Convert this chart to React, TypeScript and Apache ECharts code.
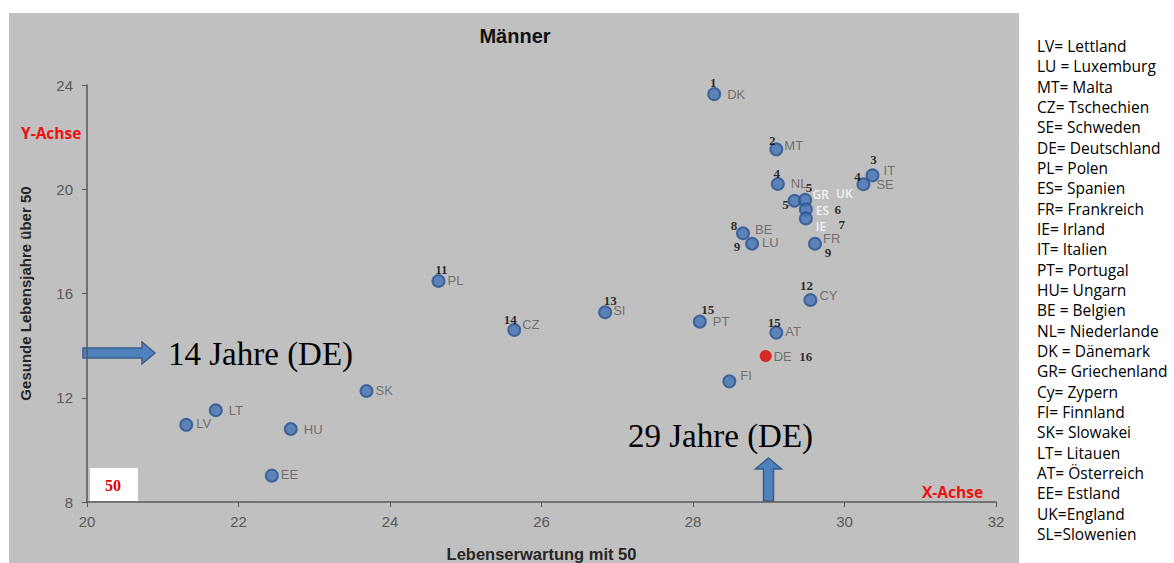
import React, { useEffect, useRef } from "react";
import * as echarts from "echarts";

const codes = ["DK", "MT", "IT", "SE", "NL", "GR", "UK", "ES", "IE", "BE", "LU", "FR", "CY", "PL", "SI", "CZ", "PT", "AT", "DE", "FI", "SK", "LT", "LV", "HU", "EE"];
const lifeExpectancy50 = [28.28, 29.1, 30.37, 30.25, 29.12, 29.34, 29.48, 29.49, 29.49, 28.66, 28.78, 29.61, 29.55, 24.64, 26.84, 25.64, 28.09, 29.1, 28.96, 28.48, 23.69, 21.7, 21.31, 22.69, 22.44];
const healthyYears50 = [23.65, 21.53, 20.53, 20.19, 20.2, 19.56, 19.59, 19.23, 18.88, 18.31, 17.91, 17.91, 15.75, 16.48, 15.28, 14.6, 14.92, 14.5, 13.6, 12.63, 12.26, 11.52, 10.96, 10.8, 9.01];
const ranks = ["1", "2", "3", "4", "4", "5", "5", "6", "7", "8", "9", "9", "12", "11", "13", "14", "15", "15", "16", "", "", "", "", "", ""];
const highlightCode = "DE";
const whiteLabelCodes = ["GR", "UK", "ES", "IE"];

const xTicks = { min: 20, max: 32, interval: 2 };
const yTicks = { min: 8, max: 24, interval: 4 };

const legendLines = [
  "LV= Lettland", "LU = Luxemburg", "MT= Malta", "CZ= Tschechien", "SE= Schweden", "DE= Deutschland",
  "PL= Polen", "ES= Spanien", "FR= Frankreich", "IE= Irland", "IT= Italien", "PT= Portugal",
  "HU= Ungarn", "BE = Belgien", "NL= Niederlande", "DK = Dänemark", "GR= Griechenland", "Cy= Zypern",
  "FI= Finnland", "SK= Slowakei", "LT= Litauen", "AT= Österreich", "EE= Estland", "UK=England", "SL=Slowenien",
];

// label layout tweaks (pixel offsets from the dot centre)
const nameOffsets: Record<string, [number, number]> = {
  DK: [12, 0], MT: [7, -4], IT: [10, -5], SE: [12, 0], NL: [12, -1], GR: [17, -6], UK: [30, -6],
  ES: [9, 1], IE: [9, 8], BE: [11, -4], LU: [9, -1], FR: [7, -5], CY: [8, -5], PL: [8, 0], SI: [7, -2],
  CZ: [7, -5], PT: [12, 0], AT: [8, -1], DE: [8, 0], FI: [10, -6], SK: [8, 0], LT: [12, 0], LV: [9, -1],
  HU: [12, 0], EE: [8, -1],
};
const rankOffsets: Record<string, [number, number]> = {
  DK: [-1, -12], MT: [-4, -9], IT: [1, -16], SE: [-6, -8], NL: [-1, -11], GR: [-9, 4], UK: [4, -12],
  ES: [32, 0], IE: [36, 6], BE: [-9, -8], LU: [-15, 3], FR: [13, 9], CY: [-4, -15], PL: [3, -11],
  SI: [5, -12], CZ: [-4, -10], PT: [8, -12], AT: [-2, -10], DE: [40, 0],
};

const SANS = "'Liberation Sans', Arial, sans-serif";
const SERIF = "'Liberation Serif', 'Times New Roman', serif";
const LEGEND_FONT = "'Open Sans', 'Noto Sans', sans-serif";

export default function App() {
  const ref = useRef<HTMLDivElement>(null);

  useEffect(() => {
    document.body.style.margin = "0";
    if (!ref.current) return;
    const chart = echarts.init(ref.current, undefined, { renderer: "svg" });

    const pointData = codes.map((c, i) => {
      const off = nameOffsets[c] || [8, 0];
      const isWhite = whiteLabelCodes.includes(c);
      const item: any = {
        name: c,
        value: [lifeExpectancy50[i], healthyYears50[i]],
        label: {
          offset: [off[0] - 6, off[1]],
          color: isWhite ? "#ffffff" : "#595959",
          fontFamily: isWhite ? LEGEND_FONT : SANS,
          fontWeight: isWhite ? 600 : "normal",
          fontSize: isWhite ? 12 : 13,
          lineHeight: isWhite ? 12 : 13,
        },
      };
      if (c === highlightCode) {
        item.itemStyle = { color: "#dd0000", borderWidth: 0 };
        item.z = 5;
      }
      return item;
    });

    const rankData = codes
      .map((c, i) => ({ c, i }))
      .filter(({ i }) => ranks[i] !== "")
      .map(({ c, i }) => ({
        name: ranks[i],
        value: [lifeExpectancy50[i], healthyYears50[i]],
        label: { offset: rankOffsets[c] || [0, -12] },
      }));

    const legendGraphics = legendLines.map((t, i) => ({
      type: "text",
      style: {
        text: t,
        x: 1037,
        y: 46 + i * 20.33,
        verticalAlign: "middle",
        align: "left",
        fill: "#000000",
        font: `15.5px ${LEGEND_FONT}`,
      },
    }));

    const option: any = {
      animation: false,
      backgroundColor: "#ffffff",
      textStyle: { fontFamily: SANS },
      grid: { left: 87, top: 85, width: 909, height: 417, containLabel: false, outerBoundsMode: "none" },
      xAxis: {
        type: "value",
        min: xTicks.min,
        max: xTicks.max,
        interval: xTicks.interval,
        name: "Lebenserwartung mit 50",
        nameLocation: "middle",
        nameGap: 43,
        nameTextStyle: { fontWeight: "bold", fontSize: 16.5, color: "#262626", fontFamily: SANS },
        axisLine: { show: true, onZero: false, lineStyle: { color: "#595959", width: 1.5 } },
        axisTick: { show: true, length: 5, lineStyle: { color: "#595959", width: 1 } },
        axisLabel: { color: "#595959", fontSize: 15, margin: 12, fontFamily: SANS },
        splitLine: { show: false },
      },
      yAxis: {
        type: "value",
        min: yTicks.min,
        max: yTicks.max,
        interval: yTicks.interval,
        name: "Gesunde Lebensjahre über 50",
        nameLocation: "middle",
        nameRotate: 90,
        nameGap: 54,
        nameTextStyle: { fontWeight: "bold", fontSize: 15, color: "#262626", fontFamily: SANS },
        axisLine: { show: true, onZero: false, lineStyle: { color: "#595959", width: 1.5 } },
        axisTick: { show: true, length: 5, lineStyle: { color: "#595959", width: 1 } },
        axisLabel: { color: "#595959", fontSize: 15, margin: 14, fontFamily: SANS },
        splitLine: { show: false },
      },
      series: [
        {
          type: "scatter",
          symbol: "circle",
          symbolSize: 12,
          itemStyle: { color: "#4472b4", borderColor: "#2a5592", borderWidth: 2 },
          label: {
            show: true,
            position: "right",
            distance: 0,
            formatter: "{b}",
            fontSize: 13,
            fontFamily: SANS,
            color: "#595959",
          },
          data: pointData,
          z: 3,
        },
        {
          type: "scatter",
          symbol: "circle",
          symbolSize: 1,
          silent: true,
          itemStyle: { color: "rgba(0,0,0,0)" },
          label: {
            show: true,
            position: "inside",
            formatter: "{b}",
            fontSize: 13,
            lineHeight: 13,
            fontWeight: "bold",
            fontFamily: SERIF,
            color: "#000000",
          },
          data: rankData,
          z: 4,
        },
      ],
      graphic: [
        {
          type: "rect",
          z: -10,
          silent: true,
          shape: { x: 9, y: 13, width: 1010, height: 550 },
          style: { fill: "#c0c0c0" },
        },
        {
          type: "text",
          style: {
            text: "Männer",
            x: 515,
            y: 36,
            align: "center",
            verticalAlign: "middle",
            fill: "#111111",
            font: `bold 20px ${SANS}`,
          },
        },
        {
          type: "rect",
          shape: { x: 90, y: 468, width: 48, height: 33 },
          style: { fill: "#ffffff" },
        },
        {
          type: "text",
          style: {
            text: "50",
            x: 113,
            y: 485,
            align: "center",
            verticalAlign: "middle",
            fill: "#e00000",
            font: `bold 16px ${SERIF}`,
          },
        },
        {
          type: "text",
          style: {
            text: "Y-Achse",
            x: 21,
            y: 133,
            align: "left",
            verticalAlign: "middle",
            fill: "#ee1111",
            font: `bold 15.5px ${LEGEND_FONT}`,
          },
        },
        {
          type: "text",
          style: {
            text: "X-Achse",
            x: 922,
            y: 492,
            align: "left",
            verticalAlign: "middle",
            fill: "#ee1111",
            font: `bold 15.5px ${LEGEND_FONT}`,
          },
        },
        {
          type: "polygon",
          shape: {
            points: [[83, 348], [142, 348], [142, 342], [155, 353], [142, 364], [142, 358], [83, 358]],
          },
          style: { fill: "#4f81bd", stroke: "#385d8a", lineWidth: 1.5 },
        },
        {
          type: "polygon",
          shape: {
            points: [[768.5, 458], [781.5, 469], [773.5, 469], [773.5, 501], [763.5, 501], [763.5, 469], [755.5, 469]],
          },
          style: { fill: "#4f81bd", stroke: "#385d8a", lineWidth: 1.5 },
        },
        {
          type: "text",
          style: {
            text: "14 Jahre (DE)",
            x: 168,
            y: 354,
            align: "left",
            verticalAlign: "middle",
            fill: "#000000",
            font: `33px ${SERIF}`,
          },
        },
        {
          type: "text",
          style: {
            text: "29 Jahre (DE)",
            x: 628,
            y: 436,
            align: "left",
            verticalAlign: "middle",
            fill: "#000000",
            font: `33px ${SERIF}`,
          },
        },
        ...legendGraphics,
      ],
    };

    chart.setOption(option);
    return () => chart.dispose();
  }, []);

  return <div ref={ref} style={{ width: 1174, height: 563 }} />;
}
